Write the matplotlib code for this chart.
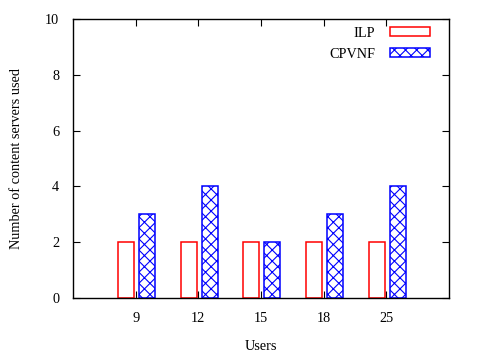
import numpy as np
import matplotlib
matplotlib.use("Agg")
import matplotlib.pyplot as plt

users = ["9", "12", "15", "18", "25"]
ilp = [2, 2, 2, 2, 2]
cpvnf = [3, 4, 2, 3, 4]

plt.rcParams['font.family'] = ['Liberation Serif', 'DejaVu Serif']
plt.rcParams['font.size'] = 10.3
plt.rcParams['hatch.linewidth'] = 0.8
plt.rcParams['hatch.color'] = 'blue'

fig = plt.figure(figsize=(4.8, 3.6), dpi=100)
ax = fig.add_axes([73/480, 1 - 298/360, (449-73)/480, (298-19)/360])

x = np.arange(1, len(users) + 1)
w = 0.255
ax.bar(x - 0.155, ilp, w, facecolor='white', edgecolor='red', linewidth=1.1, label='ILP')
ax.bar(x + 0.18, cpvnf, w, facecolor='white', edgecolor='blue', linewidth=1.1,
       hatch='xxx', label='CPVNF')

ax.set_xlim(0, 6)
ax.set_ylim(0, 10)
ax.set_xticks(x)
ax.set_xticklabels(users)
ax.set_yticks(range(0, 11, 2))
ax.tick_params(direction='in', top=True, right=True, length=5, width=0.8)
ax.tick_params(axis='x', pad=10)
ax.tick_params(axis='y', pad=10)
for s in ax.spines.values():
    s.set_linewidth(1.0)

ax.set_xlabel("Users", labelpad=11)
ax.set_ylabel("Number of content servers used", labelpad=15.5)

ax.legend(loc='upper right', frameon=False, markerfirst=False,
          handlelength=2.8, handleheight=0.6, handletextpad=1.0,
          labelspacing=0.55, borderaxespad=0.15, bbox_to_anchor=(0.97, 1.0))

fig.savefig("out.png", dpi=100)
